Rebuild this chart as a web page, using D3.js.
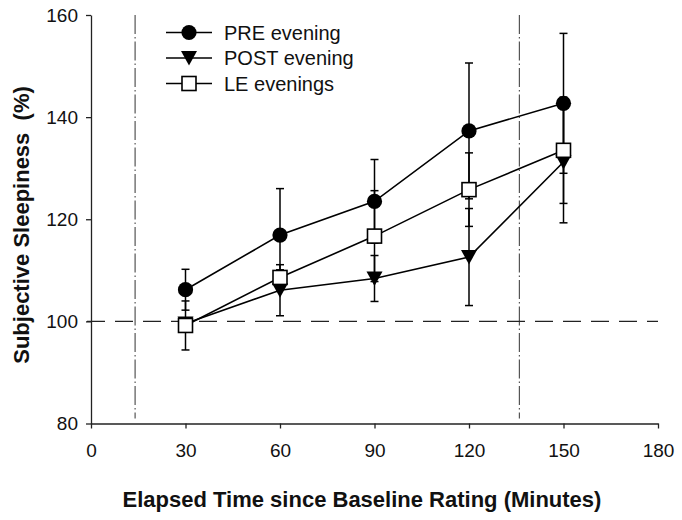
<!DOCTYPE html>
<html>
<head>
<meta charset="utf-8">
<script src="https://cdn.jsdelivr.net/npm/d3@7"></script>
<style>
  html, body { margin: 0; padding: 0; background: #fff; }
  svg { display: block; font-family: "Liberation Sans", Arial, sans-serif; }
</style>
</head>
<body>
<svg id="chart" width="682" height="520"></svg>
<script>
// ---- data ----
const times = [30, 60, 90, 120, 150];
const preMean = [106.2, 116.9, 123.5, 137.3, 142.7];
const preSE = [4.0, 9.1, 8.2, 13.3, 13.7];
const postMean = [99.6, 106.1, 108.4, 112.6, 131.2];
const postSE = [1.0, 5.0, 4.5, 9.5, 11.9];
const leMean = [99.2, 108.6, 116.7, 125.8, 133.5];
const leSE = [4.8, 1.5, 8.9, 7.2, 10.4];
const seriesNames = ["PRE evening", "POST evening", "LE evenings"];
const xTicks = [0, 30, 60, 90, 120, 150, 180];
const yTicks = [80, 100, 120, 140, 160];
const vRefLines = [14, 136];
const hRefLine = 100;
const xTitle = "Elapsed Time since Baseline Rating (Minutes)";
const yTitle = "Subjective Sleepiness  (%)";

// ---- setup ----
const svg = d3.select("#chart");
const x = d3.scaleLinear().domain([0, 180]).range([91, 658]);
const y = d3.scaleLinear().domain([80, 160]).range([423.5, 15]);

const series = [
  { name: seriesNames[0], mean: preMean, se: preSE, shape: "circle" },
  { name: seriesNames[1], mean: postMean, se: postSE, shape: "triangle" },
  { name: seriesNames[2], mean: leMean, se: leSE, shape: "square" }
];

// reference lines
svg.selectAll("line.vref").data(vRefLines).join("line")
  .attr("class", "vref")
  .attr("x1", d => x(d)).attr("x2", d => x(d))
  .attr("y1", y(160)).attr("y2", y(81))
  .attr("stroke", "#555").attr("stroke-width", 1.2)
  .attr("stroke-dasharray", "19,3,1.5,3");

svg.append("line")
  .attr("x1", x(0) - 4).attr("x2", x(180))
  .attr("y1", y(hRefLine)).attr("y2", y(hRefLine))
  .attr("stroke", "#222").attr("stroke-width", 1.3)
  .attr("stroke-dasharray", "18,10");

// axes
const yAxis = svg.append("g")
  .attr("transform", `translate(${x(0)},0)`)
  .call(d3.axisLeft(y).tickValues(yTicks).tickSize(5).tickSizeOuter(0).tickPadding(8));
const xAxis = svg.append("g")
  .attr("transform", `translate(0,${y(80)})`)
  .call(d3.axisBottom(x).tickValues(xTicks).tickSize(5).tickSizeOuter(0).tickPadding(15));
[xAxis, yAxis].forEach(g => {
  g.select(".domain").attr("stroke", "#222").attr("stroke-width", 1.3);
  g.selectAll(".tick line").attr("stroke", "#222").attr("stroke-width", 1.3);
  g.selectAll(".tick text").attr("fill", "#111")
    .style("font-size", "19px").style("font-family", "'Liberation Sans', Arial, sans-serif");
});

// axis titles
svg.append("text")
  .attr("x", 362).attr("y", 507)
  .attr("text-anchor", "middle")
  .style("font-size", "22px").style("font-weight", "bold").attr("fill", "#111")
  .text(xTitle);
svg.append("text")
  .attr("transform", "translate(29,225) rotate(-90)")
  .attr("text-anchor", "middle")
  .style("white-space", "pre")
  .style("font-size", "22px").style("font-weight", "bold").attr("fill", "#111")
  .text(yTitle);

// connecting lines
const line = d3.line().x(d => x(d[0])).y(d => y(d[1]));
series.forEach(s => {
  svg.append("path")
    .datum(times.map((t, i) => [t, s.mean[i]]))
    .attr("d", line)
    .attr("fill", "none").attr("stroke", "#000").attr("stroke-width", 1.6);
});

// error bars
series.forEach(s => {
  const g = svg.append("g");
  times.forEach((t, i) => {
    const lo = s.mean[i] - s.se[i], hi = s.mean[i] + s.se[i];
    g.append("line").attr("x1", x(t)).attr("x2", x(t))
      .attr("y1", y(lo)).attr("y2", y(hi))
      .attr("stroke", "#000").attr("stroke-width", 1.5);
    [lo, hi].forEach(v => {
      g.append("line").attr("x1", x(t) - 4).attr("x2", x(t) + 4)
        .attr("y1", y(v)).attr("y2", y(v))
        .attr("stroke", "#000").attr("stroke-width", 1.5);
    });
  });
});

// markers
function drawMarker(g, shape, cx, cy) {
  if (shape === "circle") {
    g.append("circle").attr("cx", cx).attr("cy", cy).attr("r", 7.6)
      .attr("fill", "#000");
  } else if (shape === "triangle") {
    g.append("path")
      .attr("d", `M${cx - 8},${cy - 7}L${cx + 8},${cy - 7}L${cx},${cy + 7.5}Z`)
      .attr("fill", "#000");
  } else {
    g.append("rect").attr("x", cx - 7).attr("y", cy - 7)
      .attr("width", 14).attr("height", 14)
      .attr("fill", "#fff").attr("stroke", "#000").attr("stroke-width", 1.6);
  }
}
[series[1], series[0], series[2]].forEach(s => {
  const g = svg.append("g");
  times.forEach((t, i) => drawMarker(g, s.shape, x(t), y(s.mean[i])));
});

// legend
const legend = svg.append("g");
series.forEach((s, i) => {
  const ly = 32.5 + i * 25.5;
  legend.append("line").attr("x1", 166).attr("x2", 212)
    .attr("y1", ly).attr("y2", ly)
    .attr("stroke", "#000").attr("stroke-width", 1.6);
  drawMarker(legend, s.shape, 189, ly);
  legend.append("text").attr("x", 224).attr("y", ly + 7)
    .style("font-size", "20px").attr("fill", "#111")
    .text(s.name);
});
</script>
</body>
</html>
